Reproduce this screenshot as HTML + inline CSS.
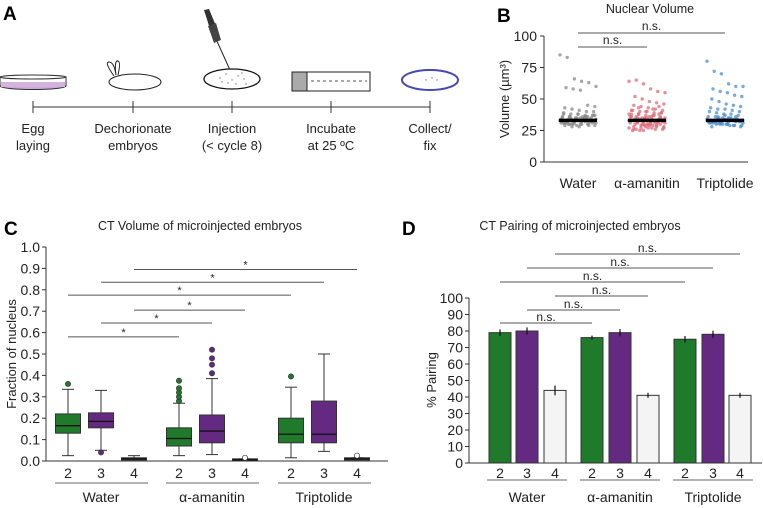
<!DOCTYPE html>
<html><head><meta charset="utf-8"><style>
html,body{margin:0;padding:0;background:#fff;}
svg{display:block;font-family:"Liberation Sans",sans-serif;}
</style></head><body>
<svg id="fig" width="763" height="508" viewBox="0 0 763 508">
<g>
<text x="3" y="20" font-size="19" font-weight="bold">A</text>
<g>
<ellipse cx="33" cy="86" rx="33" ry="3.5" fill="#c9a8d8" stroke="#333" stroke-width="1"/>
<rect x="0" y="77" width="66" height="9" fill="#fff" stroke="#333" stroke-width="1"/>
<ellipse cx="33" cy="77" rx="33" ry="2" fill="#fff" stroke="#333" stroke-width="1"/>
<rect x="1" y="82" width="64" height="5" fill="#d2b4de"/>
</g>
<g>
<ellipse cx="135" cy="82" rx="26" ry="8" fill="#fff" stroke="#222" stroke-width="1"/>
<path d="M114 76 Q104 62 109 62 Q114 62 116 75 M116 75 Q114 60 118 61 Q121 62 118 75" fill="none" stroke="#222" stroke-width="1"/>
</g>
<g>
<line x1="211" y1="28" x2="230" y2="70" stroke="#222" stroke-width="1"/>
<polygon points="204,10 209,9 216,26 210,29" fill="#333"/>
<polygon points="208,26 216,23 221,40 214,43" fill="#444"/>
<ellipse cx="232" cy="79" rx="28" ry="10" fill="#fff" stroke="#111" stroke-width="1.3"/>
<g fill="#6a6ad8"><circle cx="220" cy="78" r="0.7"/><circle cx="226" cy="74" r="0.7"/><circle cx="232" cy="80" r="0.7"/><circle cx="238" cy="76" r="0.7"/><circle cx="244" cy="79" r="0.7"/><circle cx="228" cy="83" r="0.7"/><circle cx="236" cy="84" r="0.7"/><circle cx="242" cy="73" r="0.7"/><circle cx="222" cy="82" r="0.7"/><circle cx="246" cy="84" r="0.7"/></g>
</g>
<g>
<rect x="292" y="72" width="78" height="19" fill="#fff" stroke="#222" stroke-width="1"/>
<rect x="292" y="72" width="15" height="19" fill="#aaa" stroke="#222" stroke-width="1"/>
<line x1="311" y1="81" x2="367" y2="81" stroke="#555" stroke-dasharray="3,3"/>
</g>
<g>
<ellipse cx="430" cy="80" rx="28" ry="10" fill="#fff" stroke="#4848b0" stroke-width="2"/>
<circle cx="432" cy="78" r="0.7" fill="#6a6ad8"/><circle cx="426" cy="80" r="0.7" fill="#6a6ad8"/><circle cx="437" cy="80" r="0.7" fill="#6a6ad8"/>
</g>
<g stroke="#333" stroke-width="1">
<line x1="33" y1="107" x2="430" y2="107"/>
<line x1="33" y1="101" x2="33" y2="113"/><line x1="133" y1="101" x2="133" y2="113"/><line x1="232" y1="101" x2="232" y2="113"/><line x1="331" y1="101" x2="331" y2="113"/><line x1="430" y1="101" x2="430" y2="113"/>
</g>
<g font-size="13" text-anchor="middle" fill="#222">
<text x="33" y="133"><tspan x="33">Egg</tspan><tspan x="33" dy="17">laying</tspan></text>
<text x="133" y="133"><tspan x="133">Dechorionate</tspan><tspan x="133" dy="17">embryos</tspan></text>
<text x="232" y="133"><tspan x="232">Injection</tspan><tspan x="232" dy="17">(&lt; cycle 8)</tspan></text>
<text x="331" y="133"><tspan x="331">Incubate</tspan><tspan x="331" dy="17">at 25 ºC</tspan></text>
<text x="430" y="133"><tspan x="430">Collect/</tspan><tspan x="430" dy="17">fix</tspan></text>
</g>
</g>
<g id="pb">
<text x="497" y="22" font-size="19" font-weight="bold">B</text>
<text x="650" y="13" font-size="12.5" text-anchor="middle" fill="#222">Nuclear Volume</text>
<text transform="translate(509,99) rotate(-90)" font-size="13" text-anchor="middle" fill="#222">Volume (µm³)</text>
</g>
<g id="pc">
<text x="4" y="235" font-size="19" font-weight="bold">C</text>
<text x="200" y="230" font-size="12.5" text-anchor="middle" fill="#222">CT Volume of microinjected embryos</text>
<text transform="translate(16,354) rotate(-90)" font-size="13" text-anchor="middle" fill="#222">Fraction of nucleus</text>
</g>
<g id="pd">
<text x="402" y="235" font-size="19" font-weight="bold">D</text>
<text x="580" y="230" font-size="12.5" text-anchor="middle" fill="#222">CT Pairing of microinjected embryos</text>
<text transform="translate(436,380) rotate(-90)" font-size="13" text-anchor="middle" fill="#222">% Pairing</text>
</g>
</svg>
<script>
// ---------- Panel B data ----------
const bCategories = ["Water", "α-amanitin", "Triptolide"];
const bMedians = [33, 33, 33];
const bTicks = [0, 25, 50, 75, 100];
const bWater = [85,83,66,64,63,60,59,58,57,45,44,43,42,41,40,40,39,38,38,37,37,36,36,35,35,35,34,34,34,33,33,33,32,32,32,31,31,31,30,30,30,29,29,28,28,36,37,38,34,33,32,31,35,36,
  34,33,32,31,30,35,36,34,33,32,31,30,29,34,33,32,35,36,37,31,30,33,34,32,31,35,38,36,33,32,30,29,34,33];
const bAmanitin = [64,65,62,58,56,55,52,50,48,47,46,45,44,43,42,41,41,40,40,39,39,38,38,37,37,36,36,35,35,34,34,33,33,32,32,31,31,30,30,29,29,28,28,27,27,26,26,25,25,30,32,34,36,38,40,42,35,33,31,29,27,44,38,36,
  30,31,32,33,34,35,36,28,27,26,29,30,31,32,33,34,35,37,39,41,43,28,29,30,31,32,34,36,38,27,26,25,30,33,35];
const bTriptolide = [80,72,70,62,60,60,58,56,55,53,52,50,48,46,45,44,43,42,42,41,40,40,39,38,38,37,36,36,35,35,34,34,33,33,32,32,31,31,30,30,29,29,28,35,34,33,32,31,36,37,
  33,32,31,30,34,35,33,32,31,30,29,34,33,32,31,35,36,33,32,31,30,34,33,32,31,30,29,28,33,34];
const bSeries = [bWater, bAmanitin, bTriptolide];
const bSig = [[0, 1, "n.s."], [0, 2, "n.s."]];

// ---------- Panel C data ----------
const cGroups = ["Water", "α-amanitin", "Triptolide"];
const cStages = ["2", "3", "4"];
const cTicks = [0,0.1,0.2,0.3,0.4,0.5,0.6,0.7,0.8,0.9,1.0];
const cQ1 =     [0.13, 0.155, 0.005, 0.07, 0.085, 0.003, 0.085, 0.085, 0.005];
const cMedian = [0.165,0.185, 0.01,  0.105,0.14,  0.006, 0.125, 0.125, 0.01];
const cQ3 =     [0.22, 0.225, 0.015, 0.155,0.215, 0.01,  0.2,   0.28,  0.015];
const cLow =    [0.025,0.05,  0.0,   0.025,0.03,  0.0,   0.015, 0.045, 0.0];
const cHigh =   [0.335,0.33,  0.025, 0.27, 0.385, 0.01,  0.345, 0.5,   0.015];
const cOutliers = [[0.36],[0.04],[],[0.28,0.30,0.32,0.34,0.375],[0.41,0.45,0.48,0.52],[0.015],[0.395],[],[0.025]];
const cSig = [[0,3,0.58],[1,4,0.645],[2,5,0.705],[0,6,0.775],[1,7,0.835],[2,8,0.895]];

// ---------- Panel D data ----------
const dGroups = ["Water", "α-amanitin", "Triptolide"];
const dStages = ["2", "3", "4"];
const dTicks = [0,10,20,30,40,50,60,70,80,90,100];
const dValues = [79, 80, 44, 76, 79, 41, 75, 78, 41];
const dErrors = [2, 2.2, 3, 1.2, 2.2, 1.5, 2, 2.2, 1.5];
const dSig = [[0,3],[1,4],[2,5],[0,6],[1,7],[2,8]];

const NS = "http://www.w3.org/2000/svg";
const fills = ["#1f7a2b", "#642a82", "#f4f4f4"];
function mk(parent, tag, attrs, text) {
  const e = document.createElementNS(NS, tag);
  for (const k in attrs) e.setAttribute(k, attrs[k]);
  if (text !== undefined) e.textContent = text;
  parent.appendChild(e);
  return e;
}

(function () {
  const g = document.getElementById("pb");
  const y = v => 162 - v * 1.26;
  const x = i => [578, 647, 725][i];
  const colors = ["#8a8a8a", "#e06a78", "#4a8ed2"];
  let e = mk(g, "path", {d: "M544 " + y(100) + " V162 H748", stroke: "#333", fill: "none"});
  
  
  bTicks.forEach(t => {
    mk(g, "line", {x1: 540, x2: 544, y1: y(t), y2: y(t), stroke: "#333"});
    const tl = mk(g, "text", {x: 537, y: y(t) + 5, "font-size": 14, "text-anchor": "end", fill: "#222"}, t);
    
    
  });
  bSeries.forEach((arr, i) => {
    arr.forEach((v, j) => {
      const off = (((j * 37) % 31) / 30 - 0.5) * 36;
      const p = mk(g, "circle", {cx: x(i) + off, cy: y(v), r: 1.7, fill: colors[i], opacity: 0.75});
      
      
    });
    const m = mk(g, "line", {x1: x(i) - 19, x2: x(i) + 19, y1: y(bMedians[i]), y2: y(bMedians[i]), stroke: "#000", "stroke-width": 3.5});
    
    
    const c = mk(g, "text", {x: x(i), y: 188, "font-size": 14, "text-anchor": "middle", fill: "#222"}, bCategories[i]);
    
    
  });
  const sy = [47, 33];
  bSig.forEach((s, k) => {
    const l = mk(g, "line", {x1: x(s[0]), x2: x(s[1]), y1: sy[k], y2: sy[k], stroke: "#555"});
    
    
    const t = mk(g, "text", {x: (x(s[0]) + x(s[1])) / 2, y: sy[k] - 3, "font-size": 12, "text-anchor": "middle", fill: "#222"}, s[2]);
    
    
  });
})();

(function () {
  const g = document.getElementById("pc");
  const y = v => 461 - v * 214;
  const xs = [68, 101, 134, 179, 212, 245, 291, 324, 357];
  const x = i => xs[i];
  let e = mk(g, "path", {d: "M46 " + y(1) + " V461 H388", stroke: "#333", fill: "none"});
  
  
  cTicks.forEach(t => {
    mk(g, "line", {x1: 42, x2: 46, y1: y(t), y2: y(t), stroke: "#333"});
    const tl = mk(g, "text", {x: 40, y: y(t) + 5, "font-size": 14, "text-anchor": "end", fill: "#222"}, t.toFixed(1));
    
    
  });
  const w = 25;
  cMedian.forEach((m, i) => {
    const cx = x(i), col = fills[i % 3];
    mk(g, "line", {x1: cx, x2: cx, y1: y(cLow[i]), y2: y(cHigh[i]), stroke: "#333"});
    mk(g, "line", {x1: cx - 6, x2: cx + 6, y1: y(cLow[i]), y2: y(cLow[i]), stroke: "#333"});
    mk(g, "line", {x1: cx - 6, x2: cx + 6, y1: y(cHigh[i]), y2: y(cHigh[i]), stroke: "#333"});
    const b = mk(g, "rect", {x: cx - w / 2, y: y(cQ3[i]), width: w, height: Math.max(1, y(cQ1[i]) - y(cQ3[i])), fill: i % 3 === 2 ? "#333" : col, stroke: "#333"});
    
    
    mk(g, "line", {x1: cx - w / 2, x2: cx + w / 2, y1: y(m), y2: y(m), stroke: "#111", "stroke-width": 1.3});
    cOutliers[i].forEach(o => {
      const c = mk(g, "circle", {cx: cx, cy: y(o), r: 2.6, fill: i % 3 === 2 ? "#fff" : col, stroke: "#333", "stroke-width": 0.7});
      
      
    });
    const tl = mk(g, "text", {x: cx, y: 478, "font-size": 14, "text-anchor": "middle", fill: "#222"}, cStages[i % 3]);
    
    
  });
  cGroups.forEach((gn, k) => {
    const c = x(k * 3 + 1);
    mk(g, "line", {x1: c - 46, x2: c + 47, y1: 483, y2: 483, stroke: "#666"});
    const t = mk(g, "text", {x: c, y: 502, "font-size": 14, "text-anchor": "middle", fill: "#222"}, gn);
    
    
  });
  cSig.forEach(s => {
    const l = mk(g, "line", {x1: x(s[0]), x2: x(s[1]), y1: y(s[2]), y2: y(s[2]), stroke: "#555"});
    
    
    const t = mk(g, "text", {x: (x(s[0]) + x(s[1])) / 2, y: y(s[2]) - 1, "font-size": 11, "text-anchor": "middle", fill: "#222"}, "*");
    
    
  });
})();

(function () {
  const g = document.getElementById("pd");
  const y = v => 463 - v * 1.65;
  const xs = [500, 527, 555, 592, 620, 648, 685, 713, 740];
  const x = i => xs[i];
  let e = mk(g, "path", {d: "M469 " + y(100) + " V463 H762", stroke: "#333", fill: "none"});
  
  
  dTicks.forEach(t => {
    mk(g, "line", {x1: 465, x2: 469, y1: y(t), y2: y(t), stroke: "#333"});
    const tl = mk(g, "text", {x: 463, y: y(t) + 5, "font-size": 14, "text-anchor": "end", fill: "#222"}, t);
    
    
  });
  const w = 22;
  dValues.forEach((v, i) => {
    const cx = x(i);
    const b = mk(g, "rect", {x: cx - w / 2, y: y(v), width: w, height: 463 - y(v), fill: fills[i % 3], stroke: "#333"});
    
    
    const er = mk(g, "line", {x1: cx, x2: cx, y1: y(v + dErrors[i]), y2: y(v - dErrors[i]), stroke: "#111", "stroke-width": 1.2});
    
    
    const tl = mk(g, "text", {x: cx, y: 478, "font-size": 14, "text-anchor": "middle", fill: "#222"}, dStages[i % 3]);
    
    
  });
  dGroups.forEach((gn, k) => {
    const c = x(k * 3 + 1);
    mk(g, "line", {x1: c - 40, x2: c + 40, y1: 480, y2: 480, stroke: "#666"});
    const t = mk(g, "text", {x: c, y: 502, "font-size": 14, "text-anchor": "middle", fill: "#222"}, gn);
    
    
  });
  const sy = [323, 310, 296, 282, 268, 254];
  dSig.forEach((s, k) => {
    const l = mk(g, "line", {x1: x(s[0]), x2: x(s[1]), y1: sy[k], y2: sy[k], stroke: "#555"});
    
    
    const t = mk(g, "text", {x: (x(s[0]) + x(s[1])) / 2, y: sy[k] - 2, "font-size": 12, "text-anchor": "middle", fill: "#222"}, "n.s.");
    
    
  });
})();
</script>
</body></html>
